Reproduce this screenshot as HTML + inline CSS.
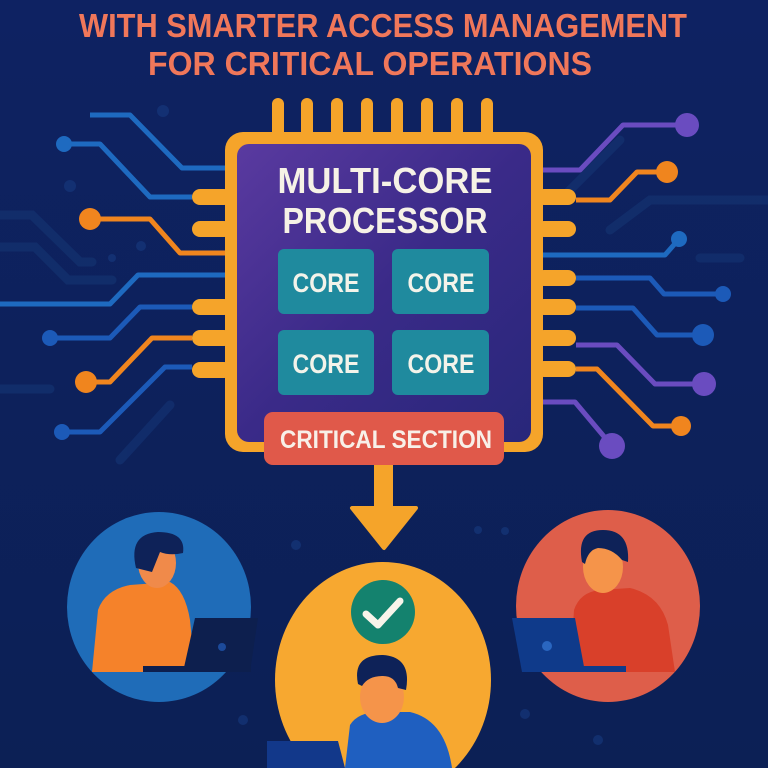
<!DOCTYPE html>
<html><head><meta charset="utf-8"><style>html,body{margin:0;padding:0;background:#0e2260}svg{display:block}</style></head>
<body>
<svg width="768" height="768" viewBox="0 0 768 768" xmlns="http://www.w3.org/2000/svg" font-family="Liberation Sans, sans-serif" font-weight="bold">
<defs>
<linearGradient id="bg" x1="0" y1="0" x2="0" y2="1"><stop offset="0" stop-color="#0e2262"/><stop offset="1" stop-color="#0c2055"/></linearGradient>
<linearGradient id="chip" x1="0" y1="0" x2="1" y2="1"><stop offset="0" stop-color="#5a3aa0"/><stop offset="0.5" stop-color="#3a2a88"/><stop offset="1" stop-color="#28277a"/></linearGradient>
</defs>
<rect width="768" height="768" fill="url(#bg)"/>
<g fill="#173a80" opacity="0.6">
<circle cx="163" cy="111" r="6"/><circle cx="70" cy="186" r="6"/><circle cx="141" cy="246" r="5"/><circle cx="112" cy="258" r="4"/><circle cx="296" cy="545" r="5"/><circle cx="478" cy="530" r="4"/><circle cx="505" cy="531" r="4"/><circle cx="243" cy="720" r="5"/><circle cx="525" cy="714" r="5"/><circle cx="598" cy="740" r="5"/>
</g>
<g stroke="#13306e" stroke-width="9" fill="none" stroke-linecap="round" opacity="0.8">
<path d="M0 215 H32 L80 262 H92"/><path d="M0 247 H35 L68 280 H112"/><path d="M0 389 H50"/><path d="M170 405 L120 460"/>
<path d="M620 140 L560 200"/><path d="M610 230 L650 200 H768"/><path d="M700 258 H740"/>
</g>
<g fill="none" stroke-width="5" stroke-linejoin="round">
<path d="M90 115 H130 L182 168 H225" stroke="#1e6ac0"/>
<path d="M64 144 H100 L150 197 H192" stroke="#1e6ac0"/>
<path d="M90 219 H150 L180 253 H225" stroke="#f0851e"/>
<path d="M0 304 H110 L138 275 H225" stroke="#1e6ac0"/>
<path d="M50 338 H110 L140 307 H192" stroke="#1c5ab8"/>
<path d="M86 382 H110 L152 338 H192" stroke="#f0851e"/>
<path d="M62 432 H100 L165 367 H192" stroke="#1c5ab8"/>
</g>
<g>
<circle cx="64" cy="144" r="8" fill="#1e6ac0"/><circle cx="90" cy="219" r="11" fill="#f0851e"/>
<circle cx="50" cy="338" r="8" fill="#1c5ab8"/><circle cx="86" cy="382" r="11" fill="#f0851e"/><circle cx="62" cy="432" r="8" fill="#1c5ab8"/>
</g>
<g fill="none" stroke-width="5" stroke-linejoin="round">
<path d="M687 125 H623 L580 170 H543" stroke="#6a4cc0"/>
<path d="M667 172 H637 L610 200 H576" stroke="#f0851e"/>
<path d="M679 239 L665 255 H543" stroke="#1e6ac0"/>
<path d="M723 294 H664 L650 278 H576" stroke="#1c5ab8"/>
<path d="M703 335 H657 L633 308 H576" stroke="#1c5ab8"/>
<path d="M704 384 H655 L617 345 H576" stroke="#6a4cc0"/>
<path d="M681 426 H653 L597 369 H576" stroke="#f0851e"/>
<path d="M612 446 L575 402 H543" stroke="#6a4cc0"/>
</g>
<g>
<circle cx="687" cy="125" r="12" fill="#6a4cc0"/><circle cx="667" cy="172" r="11" fill="#f0851e"/><circle cx="679" cy="239" r="8" fill="#1e6ac0"/>
<circle cx="723" cy="294" r="8" fill="#1c5ab8"/><circle cx="703" cy="335" r="11" fill="#1c5ab8"/><circle cx="704" cy="384" r="12" fill="#6a4cc0"/>
<circle cx="681" cy="426" r="10" fill="#f0851e"/><circle cx="612" cy="446" r="13" fill="#6a4cc0"/>
</g>
<g fill="#f5a42a">
<rect x="272" y="98" width="12" height="40" rx="6"/><rect x="301" y="98" width="12" height="40" rx="6"/><rect x="331" y="98" width="12" height="40" rx="6"/><rect x="361" y="98" width="12" height="40" rx="6"/><rect x="391" y="98" width="12" height="40" rx="6"/><rect x="421" y="98" width="12" height="40" rx="6"/><rect x="451" y="98" width="12" height="40" rx="6"/><rect x="481" y="98" width="12" height="40" rx="6"/>
<rect x="192" y="189" width="40" height="16" rx="8"/><rect x="192" y="221" width="40" height="16" rx="8"/><rect x="192" y="299" width="40" height="16" rx="8"/><rect x="192" y="330" width="40" height="16" rx="8"/><rect x="192" y="362" width="40" height="16" rx="8"/>
<rect x="536" y="189" width="40" height="16" rx="8"/><rect x="536" y="221" width="40" height="16" rx="8"/><rect x="536" y="270" width="40" height="16" rx="8"/><rect x="536" y="299" width="40" height="16" rx="8"/><rect x="536" y="330" width="40" height="16" rx="8"/><rect x="536" y="361" width="40" height="16" rx="8"/>
</g>
<rect x="225" y="132" width="318" height="320" rx="18" fill="#f5a42a"/>
<rect x="237" y="144" width="294" height="298" rx="12" fill="url(#chip)"/>
<text x="385" y="193" font-size="36" fill="#f6f2e6" text-anchor="middle" textLength="215" lengthAdjust="spacingAndGlyphs">MULTI-CORE</text>
<text x="385" y="233" font-size="36" fill="#f6f2e6" text-anchor="middle" textLength="205" lengthAdjust="spacingAndGlyphs">PROCESSOR</text>
<g fill="#1f8a9e">
<rect x="278" y="249" width="96" height="65" rx="6"/><rect x="392" y="249" width="97" height="65" rx="6"/>
<rect x="278" y="330" width="96" height="65" rx="6"/><rect x="392" y="330" width="97" height="65" rx="6"/>
</g>
<g font-size="27" fill="#f3f3ea" text-anchor="middle">
<text x="326" y="292" textLength="67" lengthAdjust="spacingAndGlyphs">CORE</text><text x="441" y="292" textLength="67" lengthAdjust="spacingAndGlyphs">CORE</text>
<text x="326" y="373" textLength="67" lengthAdjust="spacingAndGlyphs">CORE</text><text x="441" y="373" textLength="67" lengthAdjust="spacingAndGlyphs">CORE</text>
</g>
<rect x="264" y="412" width="240" height="53" rx="9" fill="#e0594a"/>
<text x="386" y="448" font-size="25" fill="#f8f0e8" text-anchor="middle" textLength="212" lengthAdjust="spacingAndGlyphs">CRITICAL SECTION</text>
<rect x="374" y="465" width="19" height="45" fill="#f5a42a"/>
<path d="M352 508 H416 L384 548 Z" fill="#f5a42a" stroke="#f5a42a" stroke-width="4" stroke-linejoin="round"/>
<g font-size="33" fill="#f0775a" text-anchor="middle">
<text x="383" y="37" textLength="608" lengthAdjust="spacingAndGlyphs">WITH SMARTER ACCESS MANAGEMENT</text>
<text x="370" y="75" textLength="444" lengthAdjust="spacingAndGlyphs">FOR CRITICAL OPERATIONS</text>
</g>
<!-- left person -->
<ellipse cx="159" cy="607" rx="92" ry="95" fill="#1f6cb8"/>
<path d="M92 672 L98 610 Q105 590 130 585 L170 582 Q185 590 190 620 L195 672 Z" fill="#f5822a"/>
<ellipse cx="157" cy="563" rx="19" ry="25" fill="#f08a4a"/>
<path d="M136 568 Q128 534 158 532 Q186 532 183 553 Q170 556 160 552 L152 572 Z" fill="#0e2258"/>
<path d="M195 618 H258 L250 672 H183 Z" fill="#0d1f4e"/>
<rect x="143" y="666" width="108" height="6" fill="#0d1f4e"/>
<circle cx="222" cy="647" r="4" fill="#1c4a9a"/>
<!-- right person -->
<ellipse cx="608" cy="606" rx="92" ry="96" fill="#de5e4a"/>
<path d="M570 672 L574 610 Q580 592 600 590 L630 588 Q660 595 668 625 L675 672 Z" fill="#d9402a"/>
<ellipse cx="603" cy="567" rx="20" ry="26" fill="#f5944a"/>
<path d="M582 562 Q576 530 603 530 Q630 530 628 562 L622 560 Q612 548 598 548 Q588 550 585 564 Z" fill="#0e2258"/>
<path d="M512 618 H575 L585 672 H522 Z" fill="#0f3a8a"/>
<rect x="522" y="666" width="104" height="6" fill="#0f3a8a"/>
<circle cx="547" cy="646" r="5" fill="#2a66c0"/>
<!-- center person -->
<ellipse cx="383" cy="680" rx="108" ry="118" fill="#f7a830"/>
<circle cx="383" cy="612" r="32" fill="#14826e"/>
<path d="M366 614 L378 625 L400 601" stroke="#f8f4ea" stroke-width="7" fill="none" stroke-linecap="round" stroke-linejoin="round"/>
<path d="M345 768 L350 725 Q358 712 380 712 L410 712 Q445 720 452 768 Z" fill="#1f5fc0"/>
<ellipse cx="382" cy="697" rx="22" ry="26" fill="#f5944a"/>
<path d="M358 684 Q352 655 383 655 Q412 657 406 690 L398 688 Q395 676 383 676 Q368 676 362 686 Z" fill="#0e2258"/>
<path d="M267 741 H338 L345 768 H267 Z" fill="#12388a"/>
</svg>
</body></html>
